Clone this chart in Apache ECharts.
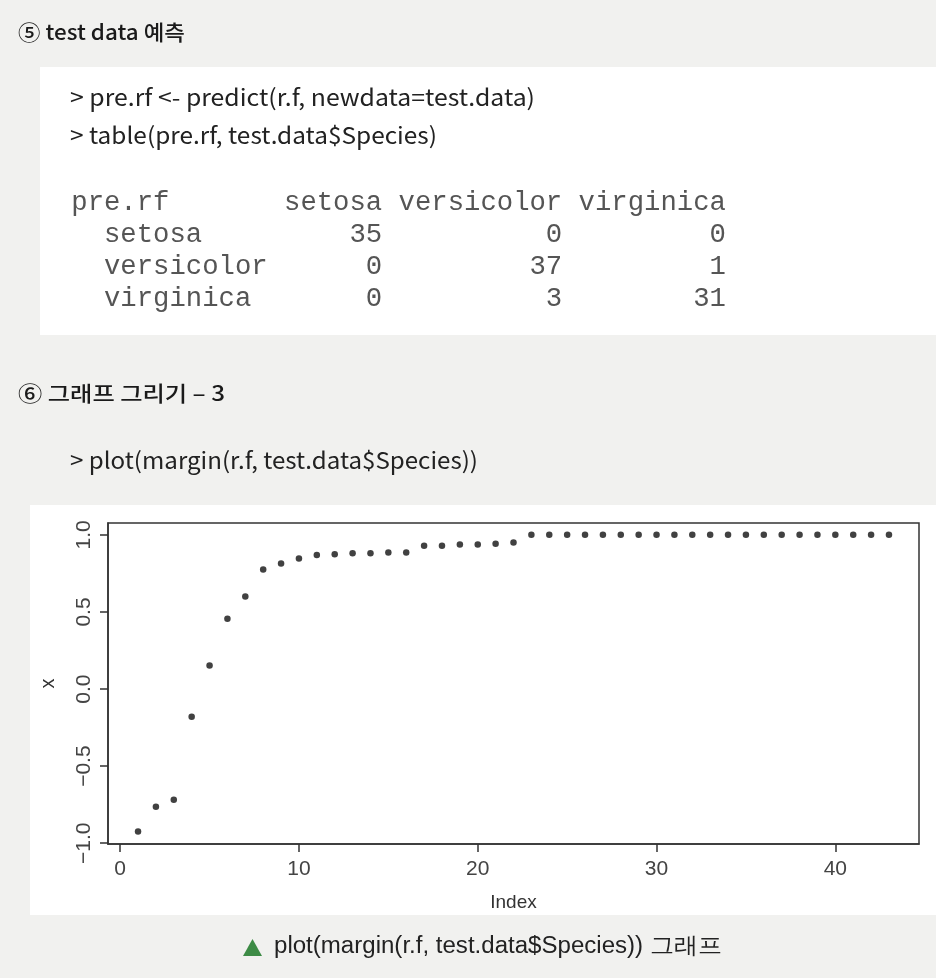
<!DOCTYPE html>
<html><head><meta charset="utf-8">
<script src="https://cdn.jsdelivr.net/npm/echarts@6/dist/echarts.min.js"></script>
<style>html,body{margin:0;padding:0;background:#f1f1ef;}#c{width:936px;height:978px;}</style>
</head><body><div id="c"></div>
<script>
// ---- data ----
var indexValues = [1,2,3,4,5,6,7,8,9,10,11,12,13,14,15,16,17,18,19,20,21,22,23,24,25,26,27,28,29,30,31,32,33,34,35,36,37,38,39,40,41,42,43];
var marginValues = [-0.924,-0.764,-0.718,-0.180,0.152,0.456,0.601,0.775,0.814,0.846,0.870,0.874,0.881,0.881,0.885,0.885,0.929,0.929,0.938,0.938,0.942,0.950,1,1,1,1,1,1,1,1,1,1,1,1,1,1,1,1,1,1,1,1,1];
var xTicks = [0,10,20,30,40];
var yTicks = [-1,-0.5,0,0.5,1];
var tableHeader = ["pre.rf","setosa","versicolor","virginica"];
var tableRows = ["setosa","versicolor","virginica"];
var tableCounts = [[35,0,0],[0,37,1],[0,3,31]];
var title5 = "⑤ test data 예측";
var code1 = "> pre.rf <- predict(r.f, newdata=test.data)";
var code2 = "> table(pre.rf, test.data$Species)";
var title6 = "⑥ 그래프 그리기 – 3";
var code3 = "> plot(margin(r.f, test.data$Species))";
var caption = "plot(margin(r.f, test.data$Species)) 그래프";

// ---- helpers ----
var cv = document.createElement('canvas').getContext('2d');
function measure(t, font){ cv.font = font; return cv.measureText(t).width; }
function fitText(t, x, y, w, size, family, color, weight){
  var font = (weight||'normal') + ' ' + size + 'px ' + family;
  var m = measure(t, font);
  return {type:'text', x:x, y:y, scaleX: w/m, originX:0, originY:0, z:10,
    style:{text:t, fill:color, font:font, textVerticalAlign:'middle', textAlign:'left'}};
}
function pad(s,n,right){ s=String(s); while(s.length<n){ s = right ? s+' ' : ' '+s; } return s; }

var kfont = '"Noto Sans CJK KR", "Noto Sans", sans-serif';
var sfont = '"Liberation Sans", Arial, sans-serif';
var mfont = '"Liberation Mono", "DejaVu Sans Mono", monospace';

var lines = [];
lines.push(pad(tableHeader[0],12,true)+' '+pad(tableHeader[1],6)+' '+pad(tableHeader[2],10)+' '+pad(tableHeader[3],9));
for (var i=0;i<tableRows.length;i++){
  lines.push(pad('  '+tableRows[i],12,true)+' '+pad(tableCounts[i][0],6)+' '+pad(tableCounts[i][1],10)+' '+pad(tableCounts[i][2],9));
}

var graphics = [
  {type:'rect', shape:{x:40,y:67,width:896,height:268}, style:{fill:'#ffffff'}, z:1},
  {type:'rect', shape:{x:30,y:505,width:906,height:410}, style:{fill:'#ffffff'}, z:-10},
  fitText(title5, 18, 32, 167, 21, kfont, '#1a1a1a', '500'),
  fitText(code1, 70, 97, 465, 23, kfont, '#222'),
  fitText(code2, 70, 135, 367, 23, kfont, '#222'),
  fitText(title6, 18, 393, 207, 21, kfont, '#1a1a1a', '500'),
  fitText(code3, 70, 460, 408, 23, kfont, '#222'),
  {type:'polygon', shape:{points:[[243,956],[262,956],[252.5,939]]}, style:{fill:'#3d8b45'}, z:10},
  fitText(caption, 274, 947, 448, 23, sfont, '#222')
];
var rowY = [203,235,267,299];
for (var j=0;j<lines.length;j++){
  graphics.push({type:'text', x:72, y:rowY[j], z:10, scaleX:1.01, originX:72,
    style:{text:lines[j], fill:'#555', font:'normal 27px '+mfont, textVerticalAlign:'middle'}});
}

var pts = indexValues.map(function(v,i){ return [v, marginValues[i]]; });
function fmt(v){ return String(v.toFixed(1)).replace('-', '\u2212'); }

var chart = echarts.init(document.getElementById('c'), null, {renderer:'canvas'});
chart.setOption({
  backgroundColor: 'transparent',
  animation: false,
  graphic: graphics,
  grid: {left:108, right:17, top:523, bottom:134, show:true, borderColor:'#333', borderWidth:1.5, backgroundColor:'#fff'},
  xAxis: {
    type:'value', min:-0.68, max:44.68,
    name:'Index', nameLocation:'middle', nameGap:49,
    nameTextStyle:{fontFamily:sfont, fontSize:19, color:'#333'},
    splitLine:{show:false},
    axisLine:{show:true, onZero:false, lineStyle:{color:'#333', width:1.5}},
    axisTick:{show:true, inside:false, length:8, customValues:xTicks, lineStyle:{color:'#333', width:1.5}},
    axisLabel:{customValues:xTicks, margin:15, fontFamily:sfont, fontSize:21, color:'#444'}
  },
  yAxis: {
    type:'value', min:-1.005, max:1.077,
    name:'x', nameLocation:'middle', nameGap:50, nameRotate:90,
    nameTextStyle:{fontFamily:sfont, fontSize:20, color:'#333'},
    splitLine:{show:false},
    axisLine:{show:true, onZero:false, lineStyle:{color:'#333', width:1.5}},
    axisTick:{show:true, inside:false, length:8, customValues:yTicks, lineStyle:{color:'#333', width:1.5}},
    axisLabel:{customValues:yTicks, rotate:90, margin:13, fontFamily:sfont, fontSize:21, color:'#444', formatter:fmt}
  },
  series: [{
    type:'scatter', data:pts, symbol:'circle', symbolSize:6.5,
    itemStyle:{color:'#111'}
  }]
});
</script></body></html>
